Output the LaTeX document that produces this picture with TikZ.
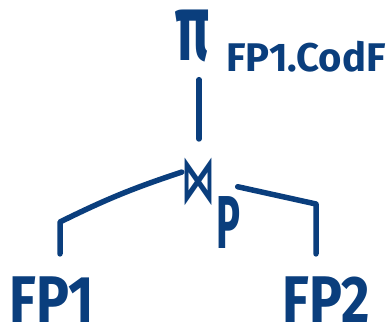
\documentclass[tikz,border=0pt]{standalone}
\usepackage{fontspec}
\setsansfont{Fira Sans}
\newfontfamily\symfont{DejaVu Sans}
\usetikzlibrary{positioning}

\definecolor{ink}{RGB}{10,62,125}

\tikzset{
	pen/.style={draw=ink, line width=5.5pt, line cap=round, line join=round},
	rel/.style={text=ink, inner sep=0pt, yscale=1.2, font=\sffamily\bfseries\fontsize{55}{58}\selectfont},
	attr/.style={text=ink, inner sep=0pt, font=\sffamily\bfseries\fontsize{40}{44}\selectfont},
	op/.style={text=ink, inner sep=0pt}
}

\begin{document}
\begin{tikzpicture}[x=1pt, y=1pt]
	\useasboundingbox (0,0) rectangle (392,328);

	\node[op, minimum width=35pt, minimum height=57pt] (proj) at (193,292)
		{\scalebox{1.0}[1.7]{\sffamily\bfseries\fontsize{56}{60}\selectfont π}};
	\node[attr] (projattr) at (306,271) {FP1.CodF};
	\node[op, minimum width=28pt, minimum height=40pt] (join) at (199,146)
		{\scalebox{0.85}[1.65]{\symfont\bfseries\fontsize{40}{44}\selectfont ⋈}};
	\node[attr, xscale=0.8, yscale=1.5, font=\sffamily\bfseries\fontsize{50}{54}\selectfont] (joincond) at (228,105) {P};

	\node[rel] (fp1) at (52,28) {FP1};
	\node[rel] (fp2) at (326,28) {FP2};

	\coordinate (lc) at (60,106);
	\coordinate (rc) at (316,124);

	% edges of the tree
	\draw[pen, shorten <=15pt, shorten >=19pt] (proj.south -| join.north) -- (join.north);
	\draw[pen] (join.150) to[bend right=4] (lc) -- ([yshift=23pt]fp1.north -| lc);
	\draw[pen, shorten <=22pt] (join.east) -- (rc) -- ([yshift=23pt]fp2.north -| rc);
\end{tikzpicture}
\end{document}
